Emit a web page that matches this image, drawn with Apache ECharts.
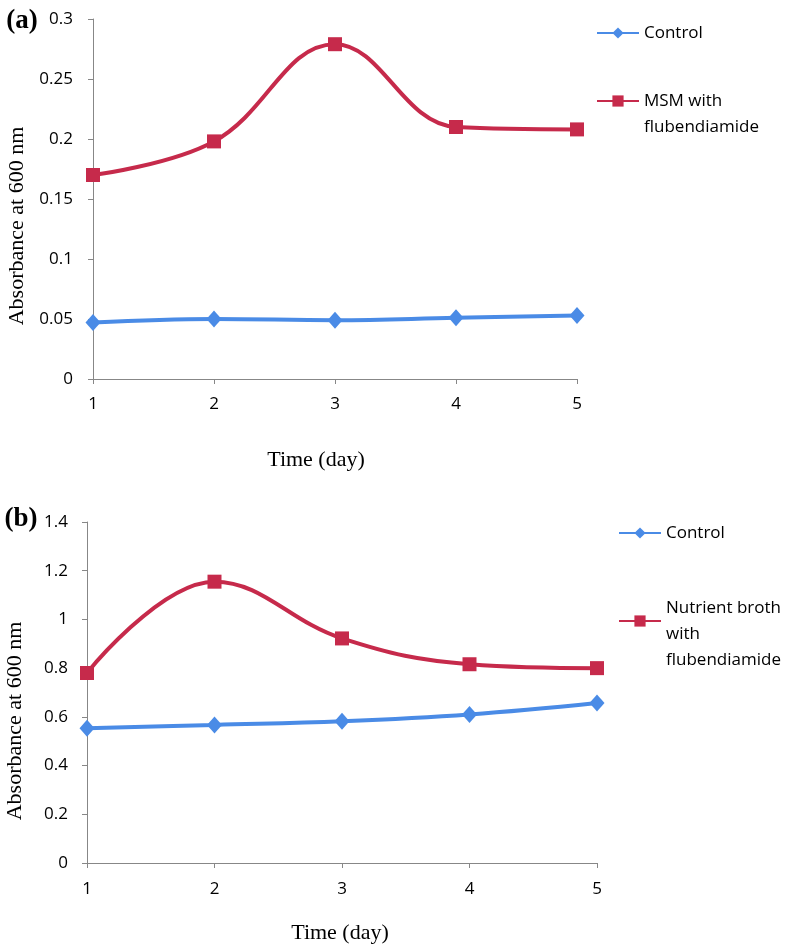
<!DOCTYPE html>
<html>
<head>
<meta charset="utf-8">
<script src="https://cdn.jsdelivr.net/npm/echarts@6/dist/echarts.min.js"></script>
<style>html,body{margin:0;padding:0;background:#fff}#c{width:786px;height:948px}</style>
</head>
<body>
<div id="c"></div>
<script>
// ---- data ----
const days = ['1', '2', '3', '4', '5'];
const controlA = [0.047, 0.050, 0.049, 0.051, 0.053];
const msmA = [0.170, 0.198, 0.279, 0.210, 0.208];
const controlB = [0.553, 0.567, 0.582, 0.610, 0.657];
const nutrientB = [0.780, 1.155, 0.922, 0.816, 0.800];
const yTicksA = [0, 0.05, 0.1, 0.15, 0.2, 0.25, 0.3];
const yTicksB = [0, 0.2, 0.4, 0.6, 0.8, 1, 1.2, 1.4];
const nameControl = 'Control';
const nameMSM = 'MSM with flubendiamide';
const nameNutrient = 'Nutrient broth with flubendiamide';
const legendText = {
  'Control': 'Control',
  'MSM with flubendiamide': '\nMSM with\nflubendiamide',
  'Nutrient broth with flubendiamide': '\nNutrient broth\nwith\nflubendiamide'
};

const BLUE = '#4a8be6';
const RED = '#c62a4b';
const AXIS = '#878787';
const SANS = '"Open Sans", "Noto Sans", sans-serif';
const SERIF = '"Liberation Serif", "DejaVu Serif", serif';

const fmt = v => String(Math.round(v * 100) / 100);

function xAx(gi, margin) {
  return {
    type: 'category', gridIndex: gi, data: days, boundaryGap: false,
    axisLine: { lineStyle: { color: AXIS, width: 1 } },
    axisTick: { alignWithLabel: true, length: 5, lineStyle: { color: AXIS } },
    axisLabel: { color: '#000', fontSize: 17, fontFamily: SANS, margin: margin },
    splitLine: { show: false }
  };
}
function yAx(gi, ticks, margin) {
  return {
    type: 'value', gridIndex: gi,
    min: ticks[0], max: ticks[ticks.length - 1], interval: ticks[1] - ticks[0],
    axisLine: { show: true, lineStyle: { color: AXIS, width: 1 } },
    axisTick: { show: true, length: 5, lineStyle: { color: AXIS } },
    axisLabel: { color: '#000', fontSize: 17, fontFamily: SANS, margin: margin, formatter: fmt },
    splitLine: { show: false }
  };
}
function ser(name, data, gi, color, symbol, size) {
  return {
    type: 'line', name: name, data: data, xAxisIndex: gi, yAxisIndex: gi,
    smooth: 0.4, symbol: symbol, symbolSize: size, showSymbol: true,
    itemStyle: { color: color }, lineStyle: { color: color, width: 4 },
    emphasis: { disabled: true }
  };
}
function leg(name, left, top) {
  return {
    data: [name], orient: 'vertical', left: left, top: top, padding: 0,
    itemWidth: 42, itemHeight: 14, itemGap: 0,
    formatter: n => legendText[n],
    textStyle: { color: '#000', fontSize: 17, fontFamily: SANS, lineHeight: 26 }
  };
}
function txt(text, x, y, font, rot) {
  return {
    type: 'text', x: x, y: y, rotation: rot || 0,
    style: { text: text, fill: '#000', font: font, align: 'center', verticalAlign: 'middle' }
  };
}

const chart = echarts.init(document.getElementById('c'), null, { renderer: 'canvas' });
chart.setOption({
  animation: false,
  backgroundColor: '#fff',
  grid: [
    { left: 93, top: 19, width: 484, height: 360 },
    { left: 87, top: 522, width: 510, height: 341 }
  ],
  xAxis: [xAx(0, 17), xAx(1, 18)],
  yAxis: [yAx(0, yTicksA, 20), yAx(1, yTicksB, 19)],
  legend: [
    leg(nameControl, 596, 20),
    leg(nameMSM, 596, 62),
    leg(nameControl, 618, 520),
    leg(nameNutrient, 618, 569)
  ],
  series: [
    ser(nameControl, controlA, 0, BLUE, 'diamond', [15, 17]),
    ser(nameMSM, msmA, 0, RED, 'rect', 14),
    ser(nameControl, controlB, 1, BLUE, 'diamond', [15, 17]),
    ser(nameNutrient, nutrientB, 1, RED, 'rect', 14)
  ],
  graphic: [
    txt('(a)', 22, 21, 'bold 27px ' + SERIF),
    txt('(b)', 21, 519, 'bold 27px ' + SERIF),
    txt('Absorbance at 600 nm', 17, 226, '22px ' + SERIF, Math.PI / 2),
    txt('Absorbance at 600 nm', 15, 721, '22px ' + SERIF, Math.PI / 2),
    txt('Time (day)', 316, 460, '22px ' + SERIF),
    txt('Time (day)', 340, 933, '22px ' + SERIF)
  ]
});
</script>
</body>
</html>
